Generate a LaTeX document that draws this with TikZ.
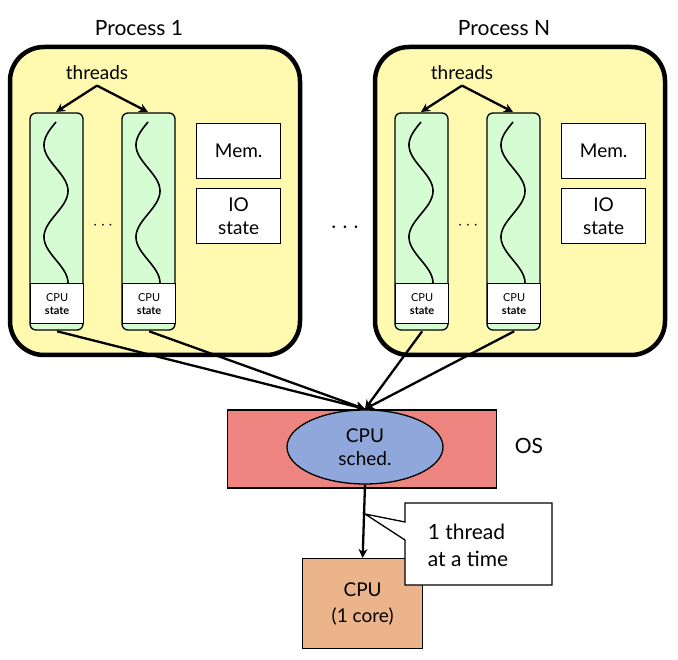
\documentclass[tikz,border=0pt]{standalone}
\usepackage{fontspec}
\setmainfont{Lato}
\usetikzlibrary{shapes.geometric,arrows.meta}
\definecolor{procy}{HTML}{FFFAB0}
\definecolor{thrg}{HTML}{D6FCD4}
\definecolor{osred}{HTML}{EE8480}
\definecolor{schedb}{HTML}{8FA7DB}
\definecolor{cpuo}{HTML}{EBB48A}
\begin{document}
\begin{tikzpicture}[x=1pt,y=-1pt,
 proc/.style={draw,line width=4.5pt,fill=procy,rounded corners=34pt},
 thr/.style={draw,line width=1.3pt,fill=thrg,rounded corners=6pt},
 st/.style={draw,line width=1.3pt,fill=white,align=center,inner sep=0pt,font=\fontsize{11}{11}\selectfont},
 box/.style={draw,line width=1.3pt,fill=white,align=center,inner sep=0pt,font=\fontsize{19}{23}\selectfont},
 arr/.style={line width=2.3pt,-{Stealth[length=9pt,width=9pt]}},
 ln/.style={line width=2.3pt}]
\useasboundingbox (0,0) rectangle (678,660);
\foreach \o/\ttl/\n in {0/Process 1/a,365/Process N/b}{
 \begin{scope}[xshift=\o]
 \node[font=\fontsize{21}{21}\selectfont] (t\n) at (139,28) {\ttl};
 \draw[proc] (10,47) rectangle (300,355);
 \node[font=\fontsize{19}{19}\selectfont] (th\n) at (97,73) {threads};
 \foreach \x/\k in {30/1,122/2}{
  \draw[thr] (\x,113) rectangle +(53,217);
  \node[st,minimum width=53pt,minimum height=40pt,anchor=north west] (cs\n\k) at (\x,283) {CPU\\[2pt]\textbf{state}};
  \draw[line width=1.6pt] plot[domain=0:1,samples=90,smooth,variable=\s] ({\x+26-12*sin(\s*630)}, {122+161*\s});
 }
 \draw[arr] (th\n.south) ++(0,2) -- (56,112);
 \draw[arr] (th\n.south) ++(0,2) -- (148,112);
 \node[font=\fontsize{16}{16}\selectfont] at (103,226) {$\cdots$};
 \node[box,minimum width=84pt,minimum height=55pt,anchor=north west] (mem\n) at (196,123) {Mem.};
 \node[box,minimum width=84pt,minimum height=55pt,anchor=north west] (io\n) at (196,188) {IO\\state};
 \end{scope}}
\node[font=\fontsize{26}{26}\selectfont\bfseries] at (345,228) {$\cdots$};
\node[draw,line width=1.3pt,fill=osred,minimum width=269pt,minimum height=78pt] (os) at (362,449) {};
\node[font=\fontsize{21}{21}\selectfont] (oslbl) at (529,446) {OS};
\node[ellipse,draw,line width=1.3pt,fill=schedb,minimum width=156pt,minimum height=74pt,align=center,font=\fontsize{19}{23}\selectfont] (sch) at (365,447) {CPU\\sched.};
\coordinate (m) at (365,409);
\foreach \c in {csa1,csa2,csb1,csb2}{ \draw[arr] (\c.south) ++(0,7) -- (m); }
\node[draw,line width=1.3pt,fill=cpuo,minimum width=120pt,minimum height=90pt,align=center,font=\fontsize{19}{26}\selectfont,anchor=north west] (cpu) at (302,558) {CPU\\(1 core)};
\draw[arr] (sch.south) -- (cpu.north);
\coordinate (p) at (365,514);
\draw[line width=1.3pt,fill=white] (405,503) -- (552,503) -- (552,585) -- (405,585) -- (405,540) -- (p) -- (405,522) -- cycle;
\node[align=left,font=\fontsize{21}{27}\selectfont] (cl) at (468,545) {1 thread\\at a time};
\end{tikzpicture}
\end{document}
